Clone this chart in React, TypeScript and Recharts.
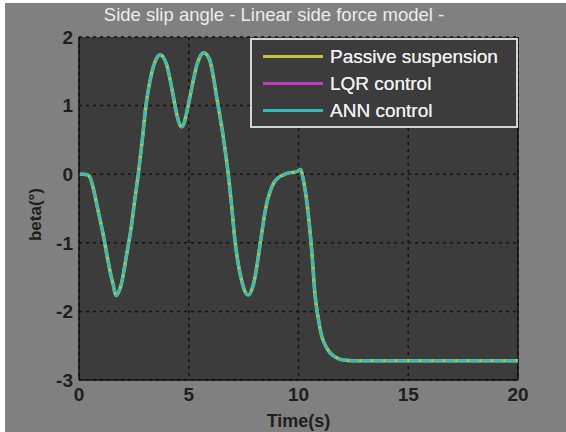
import React from 'react';
import { LineChart, Line, XAxis, YAxis, CartesianGrid, Legend, ReferenceLine } from 'recharts';

const time = [0, 0.2, 0.4, 0.52, 0.64, 0.75, 0.87, 1.09, 1.32, 1.45, 1.55, 1.63, 1.7, 1.8, 1.93, 2.15, 2.38, 2.55, 2.7, 2.9, 3.05, 3.2, 3.39, 3.55, 3.69, 3.85, 3.99, 4.15, 4.3, 4.45, 4.58, 4.68, 4.78, 4.9, 5.05, 5.21, 5.36, 5.51, 5.69, 5.85, 5.97, 6.12, 6.27, 6.42, 6.57, 6.7, 6.8, 6.95, 7.1, 7.25, 7.41, 7.55, 7.71, 7.85, 8.02, 8.17, 8.32, 8.45, 8.55, 8.7, 8.85, 9.05, 9.31, 9.6, 9.84, 10.0, 10.1, 10.2, 10.37, 10.5, 10.6, 10.75, 10.9, 11.05, 11.2, 11.43, 11.7, 12.04, 12.5, 15, 20];
const passive = [0, 0, -0.01, -0.06, -0.19, -0.35, -0.53, -0.86, -1.26, -1.47, -1.6, -1.72, -1.77, -1.72, -1.6, -1.21, -0.77, -0.35, 0, 0.55, 1.0, 1.3, 1.57, 1.7, 1.74, 1.7, 1.6, 1.38, 1.13, 0.88, 0.73, 0.69, 0.74, 0.89, 1.12, 1.37, 1.58, 1.71, 1.77, 1.73, 1.65, 1.42, 1.13, 0.85, 0.55, 0.25, 0, -0.45, -0.95, -1.3, -1.55, -1.7, -1.76, -1.7, -1.5, -1.2, -0.87, -0.6, -0.43, -0.26, -0.14, -0.06, -0.01, 0.02, 0.03, 0.05, 0.07, -0.05, -0.38, -0.75, -1.1, -1.75, -2.1, -2.35, -2.48, -2.6, -2.67, -2.71, -2.72, -2.72, -2.72];
const lqr = [0, 0, -0.01, -0.06, -0.19, -0.35, -0.53, -0.86, -1.26, -1.47, -1.6, -1.72, -1.77, -1.72, -1.6, -1.21, -0.77, -0.35, 0, 0.55, 1.0, 1.3, 1.57, 1.7, 1.74, 1.7, 1.6, 1.38, 1.13, 0.88, 0.73, 0.69, 0.74, 0.89, 1.12, 1.37, 1.58, 1.71, 1.77, 1.73, 1.65, 1.42, 1.13, 0.85, 0.55, 0.25, 0, -0.45, -0.95, -1.3, -1.55, -1.7, -1.76, -1.7, -1.5, -1.2, -0.87, -0.6, -0.43, -0.26, -0.14, -0.06, -0.01, 0.02, 0.03, 0.05, 0.07, -0.05, -0.38, -0.75, -1.1, -1.75, -2.1, -2.35, -2.48, -2.6, -2.67, -2.71, -2.72, -2.72, -2.72];
const ann = [0, 0, -0.01, -0.06, -0.19, -0.35, -0.53, -0.86, -1.26, -1.47, -1.6, -1.72, -1.77, -1.72, -1.6, -1.21, -0.77, -0.35, 0, 0.55, 1.0, 1.3, 1.57, 1.7, 1.74, 1.7, 1.6, 1.38, 1.13, 0.88, 0.73, 0.69, 0.74, 0.89, 1.12, 1.37, 1.58, 1.71, 1.77, 1.73, 1.65, 1.42, 1.13, 0.85, 0.55, 0.25, 0, -0.45, -0.95, -1.3, -1.55, -1.7, -1.76, -1.7, -1.5, -1.2, -0.87, -0.6, -0.43, -0.26, -0.14, -0.06, -0.01, 0.02, 0.03, 0.05, 0.07, -0.05, -0.38, -0.75, -1.1, -1.75, -2.1, -2.35, -2.48, -2.6, -2.67, -2.71, -2.72, -2.72, -2.72];

const xTicks = [0, 5, 10, 15, 20];
const yTicks = [-3, -2, -1, 0, 1, 2];
const seriesNames = ['Passive suspension', 'LQR control', 'ANN control'];
const seriesColors = ['#c4c43a', '#c23cc2', '#30bdbd'];
const titleText = 'Side slip angle - Linear side force model -';
const xLabel = 'Time(s)';
const yLabel = 'beta(°)';

const data = time.map((t, i) => ({ t, passive: passive[i], lqr: lqr[i], ann: ann[i] }));

const FONT = '"Liberation Sans", Arial, sans-serif';

const LegendBox = (props: any) => {
  const payload = [...(props.payload || [])].sort(
    (a: any, b: any) => seriesNames.indexOf(a.value) - seriesNames.indexOf(b.value)
  );
  return (
    <div
      style={{
        width: 268,
        height: 90,
        boxSizing: 'border-box',
        background: '#3c3c3c',
        border: '2px solid #d4d4d4',
        padding: '3px 0 0 11px',
        fontFamily: FONT,
        fontSize: 19,
        color: '#f0f0f0',
        textShadow: '0 0 0.6px #f0f0f0',
      }}
    >
      {payload.map((e: any) => (
        <div key={e.value} style={{ display: 'flex', alignItems: 'center', height: 27 }}>
          <span style={{ display: 'inline-block', width: 60, height: 3, background: e.color, marginRight: 7 }} />
          <span>{e.value}</span>
        </div>
      ))}
    </div>
  );
};

const YLabel = (props: any) => {
  const vb = props.viewBox || { x: 0, y: 0, width: 0, height: 0 };
  const cx = vb.x + 35;
  const cy = vb.y + vb.height / 2 + 6;
  return (
    <text
      x={cx}
      y={cy}
      transform={`rotate(-90 ${cx} ${cy})`}
      textAnchor="middle"
      dominantBaseline="central"
      fill="#1e1e1e"
      fontFamily={FONT}
      fontSize={17}
      fontWeight="bold"
    >
      {yLabel}
    </text>
  );
};

export default function App() {
  return (
    <div style={{ position: 'absolute', left: 0, top: 0, width: 566, height: 432, background: '#ffffff' }}>
      <div style={{ position: 'absolute', left: 5, top: 3, width: 561, height: 429, background: '#808080' }} />
      <div
        style={{
          position: 'absolute',
          left: 74,
          top: 4,
          width: 400,
          textAlign: 'center',
          fontFamily: FONT,
          fontSize: 18.5,
          lineHeight: '22px',
          color: '#ececec',
        }}
      >
        {titleText}
      </div>
      <div style={{ position: 'absolute', left: 0, top: 0 }}>
        <LineChart width={566} height={432} data={data} margin={{ top: 37, right: 48, bottom: 0, left: 0 }}>
          <CartesianGrid stroke="#111111" strokeDasharray="3 4" strokeWidth={1.5} fill="#3c3c3c" fillOpacity={1} />
          <XAxis
            dataKey="t"
            type="number"
            domain={[0, 20]}
            ticks={xTicks}
            interval={0}
            height={52}
            tickSize={0}
            tickMargin={8}
            tickLine={false}
            axisLine={{ stroke: '#111111', strokeWidth: 1.5 }}
            tick={{ fill: '#1e1e1e', fontSize: 19, fontWeight: 'bold', fontFamily: FONT }}
            label={{ value: xLabel, position: 'insideBottom', offset: 5, fill: '#1e1e1e', fontSize: 18, fontWeight: 'bold', fontFamily: FONT }}
          />
          <YAxis
            type="number"
            domain={[-3, 2]}
            ticks={yTicks}
            interval={0}
            width={79}
            tickSize={0}
            tickMargin={6}
            tickLine={false}
            axisLine={{ stroke: '#111111', strokeWidth: 1.5 }}
            tick={{ fill: '#1e1e1e', fontSize: 19, fontWeight: 'bold', fontFamily: FONT }}
            label={{ content: <YLabel /> } as any}
          />
          <ReferenceLine x={20} stroke="#111111" strokeWidth={1.5} />
          <Legend
            layout="horizontal"
            verticalAlign="middle"
            align="center"
            content={<LegendBox />}
            wrapperStyle={{ position: 'absolute', left: 250, top: 38, width: 268, height: 90 }}
          />
          <Line type="monotone" dataKey="lqr" name={seriesNames[1]} stroke={seriesColors[1]} strokeWidth={2} dot={false} isAnimationActive={false} />
          <Line type="monotone" dataKey="passive" name={seriesNames[0]} stroke={seriesColors[0]} strokeWidth={3.5} dot={false} isAnimationActive={false} />
          <Line type="monotone" dataKey="ann" name={seriesNames[2]} stroke={seriesColors[2]} strokeWidth={3} strokeDasharray="10 2" dot={false} isAnimationActive={false} />
        </LineChart>
      </div>
    </div>
  );
}
